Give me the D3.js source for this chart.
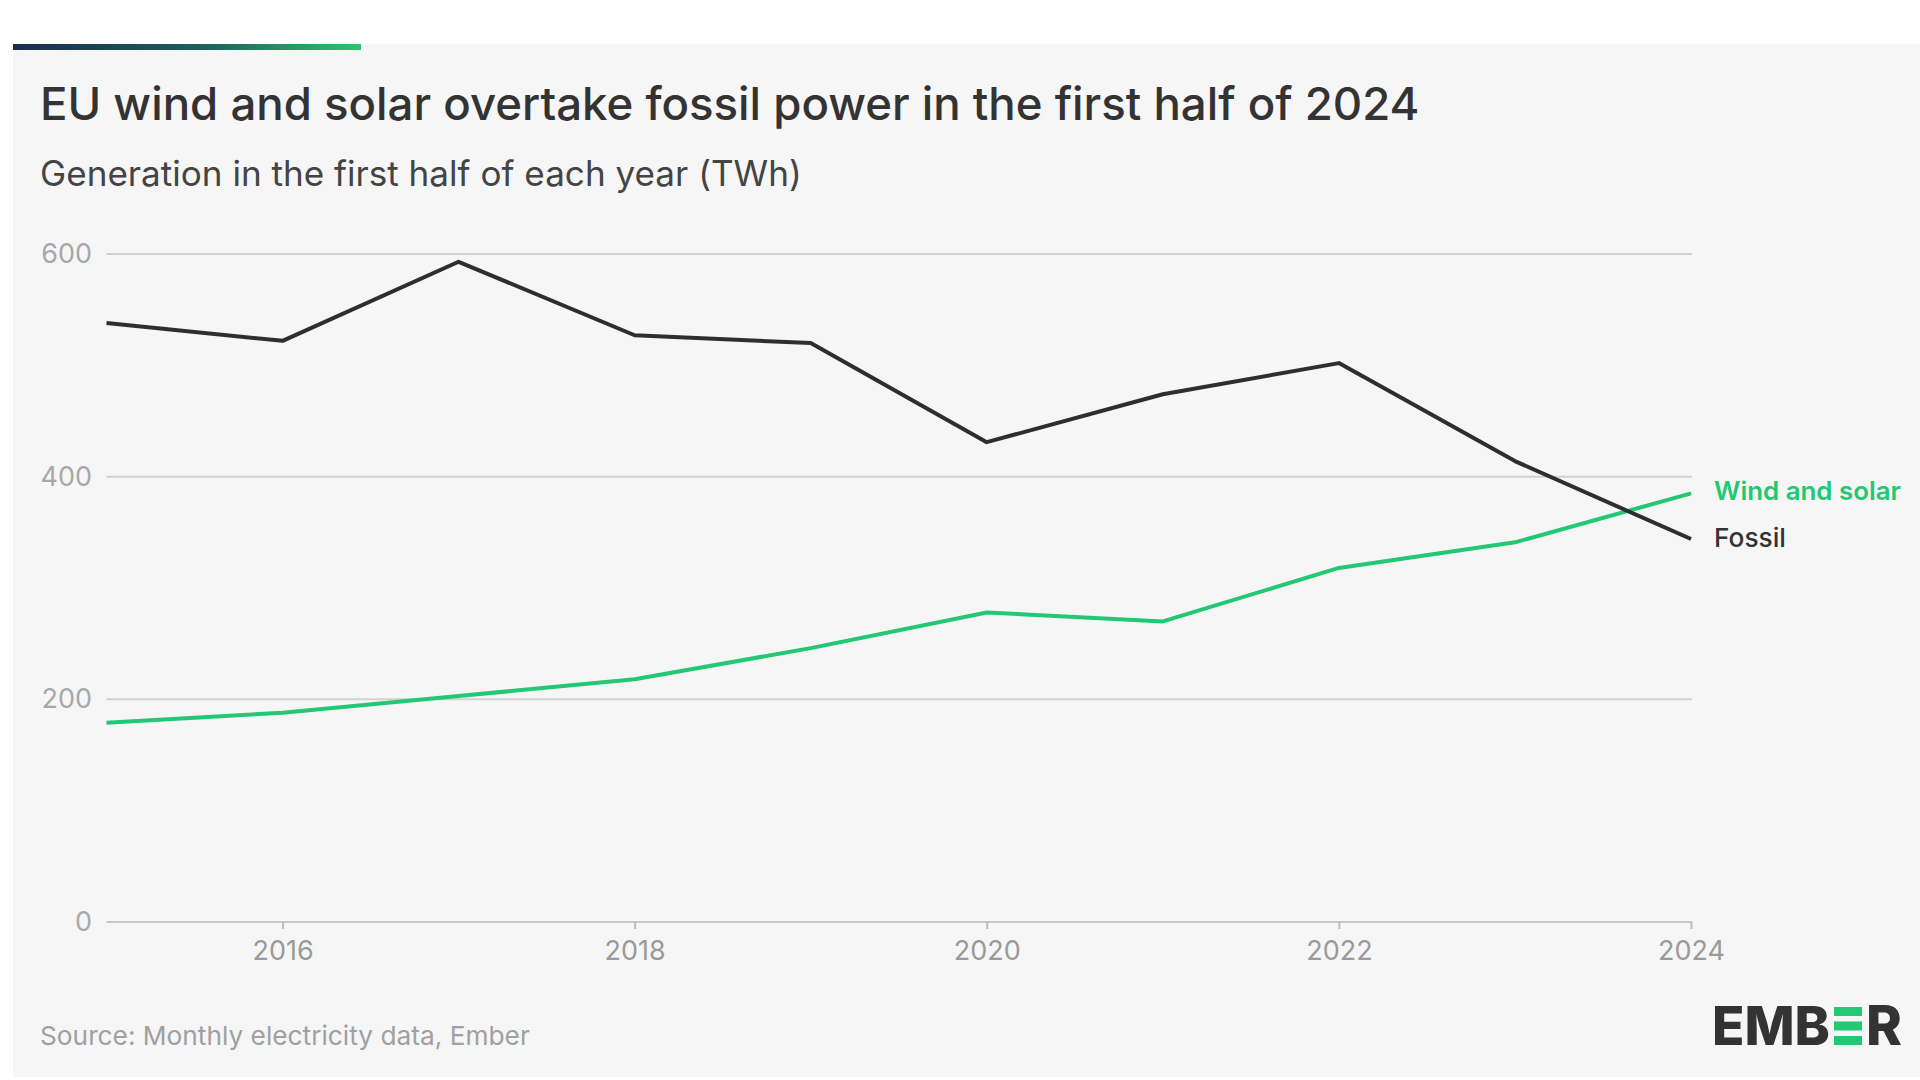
<!DOCTYPE html>
<html><head><meta charset="utf-8">
<script src="https://cdn.jsdelivr.net/npm/d3@7"></script>
<style>
html,body{margin:0;padding:0;background:#fff;}
svg{display:block;font-family:Inter,"Open Sans",sans-serif;}
</style></head>
<body>
<svg id="chart" width="1920" height="1080"></svg>
<script>
const years = [2015,2016,2017,2018,2019,2020,2021,2022,2023,2024];
const fossil = [538,522,593,527,520,431,474,502,414,344];
const windSolar = [179,188,203,218,246,278,270,318,341,385];
const yTicks = [0,200,400,600];
const xTicks = [2016,2018,2020,2022,2024];
const title = "EU wind and solar overtake fossil power in the first half of 2024";
const subtitle = "Generation in the first half of each year (TWh)";
const source = "Source: Monthly electricity data, Ember";

const svg = d3.select("#chart");
const defs = svg.append("defs");
const grad = defs.append("linearGradient").attr("id","topbar");
grad.append("stop").attr("offset","0%").attr("stop-color","#1c2d4a");
grad.append("stop").attr("offset","55%").attr("stop-color","#1f5f5c");
grad.append("stop").attr("offset","100%").attr("stop-color","#2fc36f");

svg.append("rect").attr("x",13).attr("y",44).attr("width",1907).attr("height",1033).attr("fill","#f6f6f6");
svg.append("rect").attr("x",13).attr("y",44).attr("width",348).attr("height",6).attr("fill","url(#topbar)");

function fit(sel, w){
  const n = sel.node();
  const L = n.getComputedTextLength();
  const fs = parseFloat(sel.attr("font-size"));
  sel.attr("font-size", fs*w/L);
}

fit(svg.append("text").attr("x",40).attr("y",120).attr("font-size",44).attr("font-weight",500)
  .attr("fill","#333").text(title), 1380);
fit(svg.append("text").attr("x",40).attr("y",186).attr("font-size",32)
  .attr("fill","#444").text(subtitle), 762);

const x = d3.scaleLinear().domain([2015,2024]).range([106.5,1691]);
const y = d3.scaleLinear().domain([0,600]).range([922,254]);

const gy = svg.append("g");
yTicks.forEach(t=>{
  gy.append("line").attr("x1",106.5).attr("x2",1692).attr("y1",y(t)).attr("y2",y(t))
    .attr("stroke",t===0?"#c8c8c8":"#d2d2d2").attr("stroke-width",2);
  gy.append("text").attr("x",92).attr("y",y(t)+9).attr("text-anchor","end")
    .attr("font-size",27).attr("fill","#a8a8a8").text(t);
});

const xAxis = d3.axisBottom(x).tickValues(xTicks).tickFormat(d3.format("d")).tickSize(7).tickPadding(12);
const gx = svg.append("g").attr("transform",`translate(0,${y(0)})`).call(xAxis);
gx.select(".domain").remove();
gx.selectAll(".tick line").attr("stroke","#bdbdbd").attr("stroke-width",2);
gx.selectAll(".tick text").attr("font-size",27).attr("fill","#9a9a9a").attr("font-family","Inter,'Open Sans',sans-serif");

const line = d3.line().x((d,i)=>x(years[i])).y(d=>y(d));
svg.append("path").datum(windSolar).attr("d",line).attr("fill","none")
  .attr("stroke","#22c873").attr("stroke-width",4).attr("stroke-linejoin","round");
svg.append("path").datum(fossil).attr("d",line).attr("fill","none")
  .attr("stroke","#2e2e2e").attr("stroke-width",4).attr("stroke-linejoin","round");

fit(svg.append("text").attr("x",1714).attr("y",500).attr("font-size",26).attr("font-weight",600)
  .attr("fill","#22c873").text("Wind and solar"), 187);
fit(svg.append("text").attr("x",1714).attr("y",547).attr("font-size",26).attr("font-weight",500)
  .attr("fill","#333").text("Fossil"), 72);

fit(svg.append("text").attr("x",40).attr("y",1045).attr("font-size",24)
  .attr("fill","#a0a0a0").text(source), 490);

// EMBER logo
const logo = svg.append("g");
const emb = logo.append("text").attr("x",1712).attr("y",1045).attr("font-size",52).attr("font-weight",800)
  .attr("fill","#333").text("EMB");
fit(emb, 118);
[0,1,2].forEach(i=>{
  logo.append("rect").attr("x",1834).attr("y",1007+i*14.5).attr("width",28).attr("height",9).attr("fill","#22c873");
});
const r = logo.append("text").attr("x",1866).attr("y",1045).attr("font-size",52).attr("font-weight",800)
  .attr("fill","#333").text("R");
fit(r, 36);
</script>
</body></html>
